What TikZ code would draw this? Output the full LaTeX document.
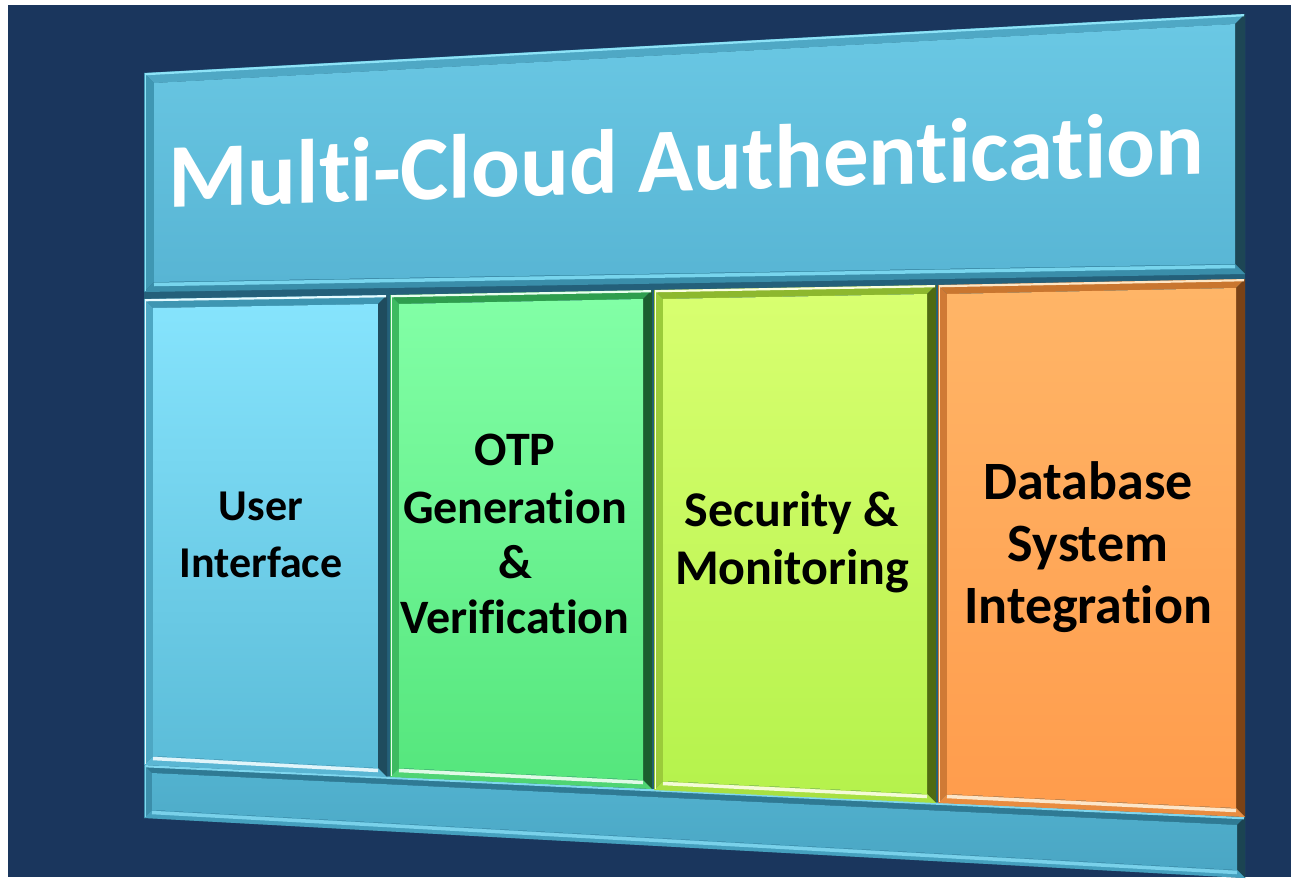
\documentclass[tikz,border=0pt]{standalone}
\usepackage{fontspec}
\setmainfont{Carlito}[Ligatures={NoCommon}]
\usetikzlibrary{calc}
\definecolor{navy}{HTML}{1A365D}
\definecolor{frameback}{HTML}{24607A}
% title panel
\definecolor{ttlft}{HTML}{6AC8E4}\definecolor{ttlfb}{HTML}{58B5D4}
\definecolor{ttltb}{HTML}{4FA8C5}\definecolor{ttlhl}{HTML}{8EE3F7}
\definecolor{ttlrb}{HTML}{1D4655}\definecolor{ttllb}{HTML}{3F97B3}
\definecolor{ttlbb}{HTML}{3A8EAA}\definecolor{ttlbh}{HTML}{7FDDF5}
% user interface
\definecolor{uift}{HTML}{86E4FD}\definecolor{uifb}{HTML}{5BBCD8}
\definecolor{uitb}{HTML}{3E96B2}\definecolor{uihl}{HTML}{E6FBFF}
\definecolor{uirb}{HTML}{1F4C5E}\definecolor{uilb}{HTML}{4DA7C3}
\definecolor{uibb}{HTML}{5AB6D3}\definecolor{uibh}{HTML}{F0FCFF}
% otp
\definecolor{otpft}{HTML}{82FFA6}\definecolor{otpfb}{HTML}{55E67D}
\definecolor{otptb}{HTML}{2E9E4E}\definecolor{otphl}{HTML}{E8FFEE}
\definecolor{otprb}{HTML}{1B5E2E}\definecolor{otplb}{HTML}{3DBA60}
\definecolor{otpbb}{HTML}{4FD473}\definecolor{otpbh}{HTML}{F0FFF4}
% security
\definecolor{secft}{HTML}{D8FF70}\definecolor{secfb}{HTML}{B5F24C}
\definecolor{sectb}{HTML}{8DB82E}\definecolor{sechl}{HTML}{FBFFE0}
\definecolor{secrb}{HTML}{4F6A12}\definecolor{seclb}{HTML}{9BCB3A}
\definecolor{secbb}{HTML}{A8E042}\definecolor{secbh}{HTML}{FDFFE8}
% database
\definecolor{dbft}{HTML}{FFB567}\definecolor{dbfb}{HTML}{FF9C4C}
\definecolor{dbtb}{HTML}{C9762F}\definecolor{dbhl}{HTML}{FFE6C4}
\definecolor{dbrb}{HTML}{7A4216}\definecolor{dblb}{HTML}{D07A35}
\definecolor{dbbb}{HTML}{E88C40}\definecolor{dbbh}{HTML}{FFF0D8}
% bottom bar
\definecolor{barft}{HTML}{52B2CF}\definecolor{barfb}{HTML}{4AA6C4}
\definecolor{bartb}{HTML}{2F7A94}\definecolor{barhl}{HTML}{7FD7EF}
\definecolor{barrb}{HTML}{1B4452}\definecolor{barlb}{HTML}{3B8EAA}
\definecolor{barbb}{HTML}{45A0BE}\definecolor{barbh}{HTML}{7FD7EF}

\def\bw{9}
\newcommand\bevpanel[9]{%
  \coordinate (#1A) at (#2,#3);
  \coordinate (#1B) at (#4,#5);
  \coordinate (#1C) at (#6,#7);
  \coordinate (#1D) at (#8,#9);
  \coordinate (#1a) at ($(#1A)+(\bw,\bw)$);
  \coordinate (#1b) at ($(#1B)+(-\bw,\bw)$);
  \coordinate (#1c) at ($(#1C)+(-\bw,-\bw)$);
  \coordinate (#1d) at ($(#1D)+(\bw,-\bw)$);
  \fill[#1tb] (#1A)--(#1B)--(#1b)--(#1a)--cycle;
  \fill[#1lb] (#1A)--(#1a)--(#1d)--(#1D)--cycle;
  \fill[#1rb] (#1B)--(#1C)--(#1c)--(#1b)--cycle;
  \fill[#1bb] (#1D)--(#1d)--(#1c)--(#1C)--cycle;
  \shade[top color=#1ft,bottom color=#1fb] (#1a)--(#1b)--(#1c)--(#1d)--cycle;
  \draw[#1hl,line width=2.2] ($(#1A)+(1,1.2)$)--($(#1B)+(-1,1.2)$);
  \draw[#1hl,line width=1.2] ($(#1A)+(1.2,1)$)--($(#1D)+(1.2,-1)$);
  \draw[#1bh,line width=3.5,opacity=0.9] ($(#1d)+(0,2.5)$)--($(#1c)+(0,2.5)$);
}
\tikzset{
  lbl/.style={font=\bfseries\fontsize{#1}{#1}\selectfont, text=black, inner sep=0pt, anchor=base},
  ttltext/.style={font=\bfseries\fontsize{91}{91}\selectfont, text=white, inner sep=0pt, anchor=base, yslant=0.032}
}
\begin{document}
\begin{tikzpicture}[x=1pt,y=-1pt]
\useasboundingbox (0,0) rectangle (1298,881);
\fill[white] (0,0) rectangle (1298,881);
\fill[navy] (8,5) rectangle (1291,877);
% backing of whole board
\fill[frameback] (144,73)--(1245,14)--(1245,878)--(144,818)--cycle;
% bottom bar
\def\bw{8}
\bevpanel{bar}{144}{765}{1245}{817}{1245}{878}{144}{818}
% title
\def\bw{10}
\bevpanel{ttl}{144}{73}{1245}{14}{1245}{274}{144}{292}
% columns
\def\bw{9}
\bevpanel{ui}{144}{299}{387}{295}{387}{777}{144}{765}
\bevpanel{otp}{390}{295}{652}{290}{652}{789}{390}{777}
\bevpanel{sec}{654}{290}{936}{285}{936}{803}{654}{790}
\bevpanel{db}{938}{285}{1245}{279}{1245}{817}{938}{803}
% texts
\node[ttltext] (title) at (686,191) {Multi-Cloud Authentication};
\node[lbl=44] (ui1) at (261,520) {User};
\node[lbl=44] (ui2) at (261,577) {Interface};
\node[lbl=48] (otp1) at (515,465) {OTP};
\node[lbl=48] (otp2) at (515,523) {Generation};
\node[lbl=48] (otp3) at (515,578) {\&};
\node[lbl=48] (otp4) at (515,633) {Verification};
\node[lbl=50] (sec1) at (792,526) {Security \&};
\node[lbl=50] (sec2) at (792,584) {Monitoring};
\node[lbl=54] (db1) at (1088,499) {Database};
\node[lbl=54] (db2) at (1088,561) {System};
\node[lbl=54] (db3) at (1088,623) {Integration};
\end{tikzpicture}
\end{document}
